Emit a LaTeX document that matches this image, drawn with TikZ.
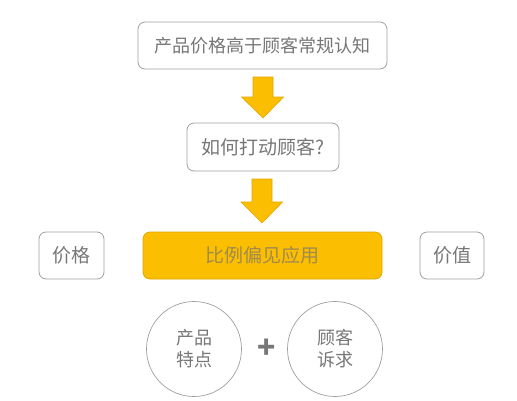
\documentclass[tikz,border=0pt]{standalone}
\usepackage{fontspec}
\setmainfont{Noto Sans CJK SC}
\definecolor{ygold}{HTML}{FBBE00}
\definecolor{yedge}{HTML}{E0A800}
\definecolor{txtg}{HTML}{777777}
\definecolor{boxg}{HTML}{A0A0A0}
\definecolor{ytxt}{HTML}{A08A50}
\tikzset{
  gbox/.style={draw=boxg, line width=0.8pt, rounded corners=7pt, fill=white, text=txtg, inner sep=0pt},
  ybox/.style={draw=yedge, line width=0.8pt, rounded corners=7pt, fill=ygold, text=ytxt, inner sep=0pt},
  gcirc/.style={draw=boxg, line width=0.7pt, circle, minimum size=95pt, inner sep=0pt, text=txtg, align=center},
  downarrow/.style={fill=ygold, draw=yedge, line width=0.6pt, line join=miter}
}
\begin{document}
\begin{tikzpicture}[x=1pt,y=-1pt]
\useasboundingbox (0,0) rectangle (517,400);
\fill[white] (0,0) rectangle (517,400);
% top box
\node[gbox, minimum width=249pt, minimum height=47pt, font=\fontsize{18}{21}\selectfont] (top) at (262.5,45.5) {产品价格高于顾客常规认知};
% question box
\node[gbox, minimum width=152pt, minimum height=48pt, font=\fontsize{19}{22}\selectfont] (q) at (263,147) {如何打动顾客?};
% row
\node[gbox, minimum width=65pt, minimum height=47pt, font=\fontsize{19}{22}\selectfont] (price) at (71.5,255.5) {价格};
\node[ybox, minimum width=239pt, minimum height=47pt, font=\fontsize{19}{22}\selectfont] (main) at (262.5,255.5) {比例偏见应用};
\node[gbox, minimum width=64pt, minimum height=47pt, font=\fontsize{19}{22}\selectfont] (value) at (452,255.5) {价值};
% circles
\node[gcirc, font=\fontsize{18}{22}\selectfont] (c1) at (194,349) {产品\\特点};
\node[gcirc, font=\fontsize{18}{22}\selectfont] (c2) at (335,349) {顾客\\诉求};
\node[text=txtg, font=\fontsize{30}{30}\selectfont\bfseries] (plus) at (267,349) {+};
% arrows
\coordinate (a1) at (263,77);
\coordinate (a2) at (262,179);
\draw[downarrow] (a1) ++(-10,0) -- ++(20,0) -- ++(0,20) -- ++(10.5,0) -- (263,118) -- (241.5,97) -- ++(11.5,0) -- cycle;
\draw[downarrow] (a2) ++(-10,0) -- ++(20,0) -- ++(0,23) -- ++(10.5,0) -- (262,223) -- (241,202) -- ++(11,0) -- cycle;
\end{tikzpicture}
\end{document}
